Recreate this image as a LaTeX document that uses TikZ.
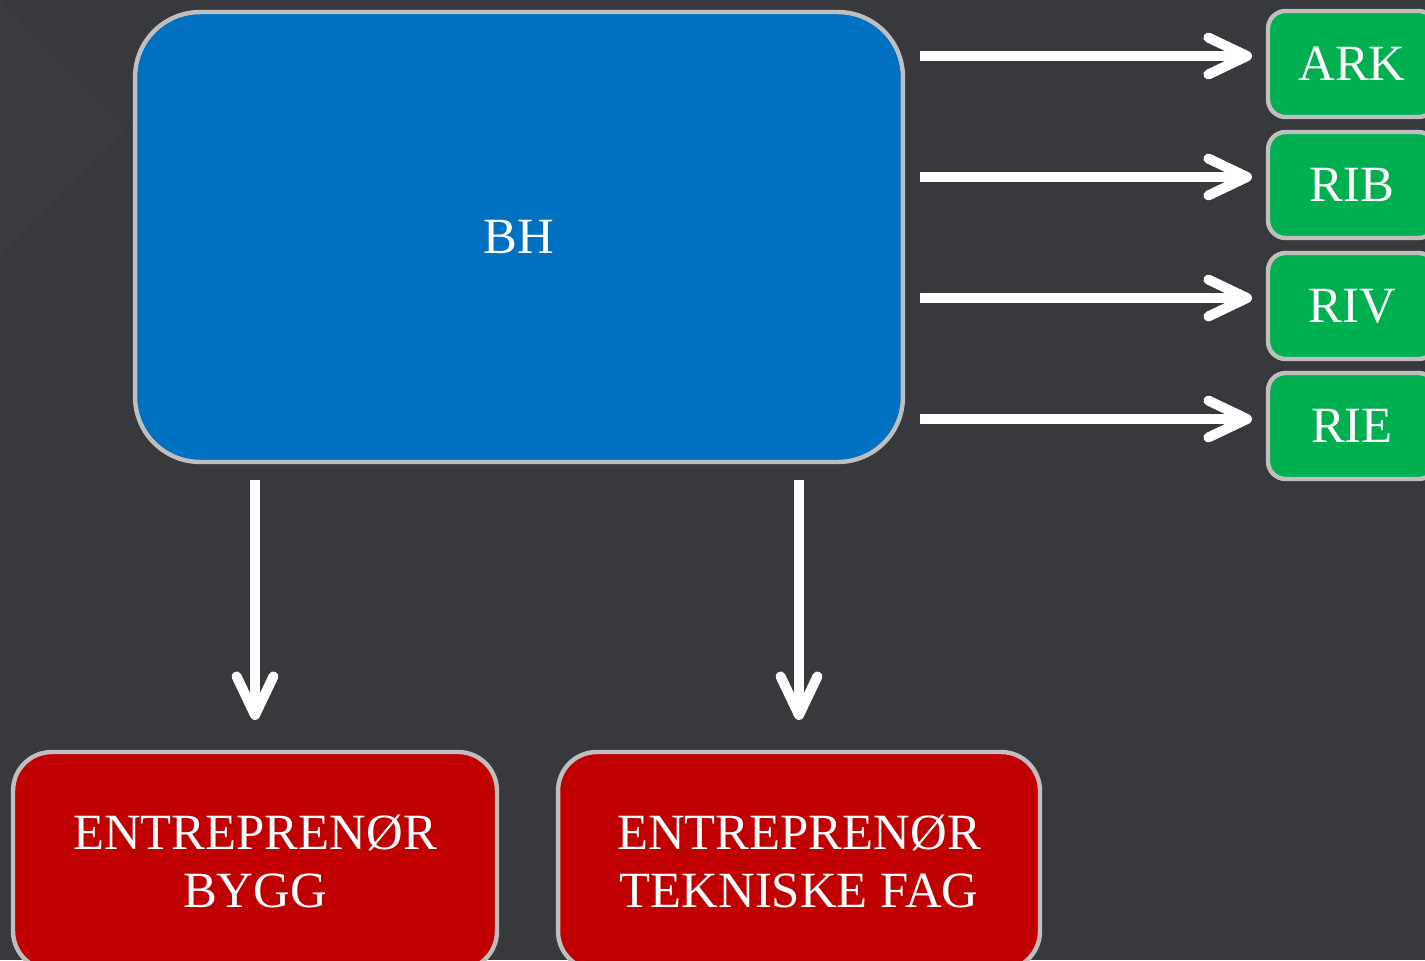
\documentclass[tikz,border=0pt]{standalone}
\usepackage{fontspec}
\setmainfont{Liberation Serif}
\usetikzlibrary{arrows.meta}
\definecolor{bgdark}{RGB}{56,57,61}
\definecolor{bgtint}{RGB}{58,59,63}
\definecolor{bhblue}{RGB}{0,112,192}
\definecolor{fagreen}{RGB}{0,176,80}
\definecolor{entred}{RGB}{192,0,0}
\definecolor{edgegray}{RGB}{191,191,191}
\begin{document}
\begin{tikzpicture}[x=0.02cm,y=-0.02cm,
  box/.style={draw=edgegray, line width=2.5pt, inner sep=0pt, text=white,
    font=\fontsize{28.9}{33}\selectfont, align=center},
  bhbox/.style={box, fill=bhblue, rounded corners=37pt,
    minimum width=15.36cm, minimum height=9cm},
  fagbox/.style={box, fill=fagreen, rounded corners=10pt,
    minimum width=3.36cm, minimum height=2.12cm},
  entbox/.style={box, fill=entred, rounded corners=22pt,
    minimum height=4.36cm},
  flow/.style={draw=white, line width=5.67pt,
    -{Straight Barb[length=22pt,width=21pt,round]}}
]
\useasboundingbox (0,0) rectangle (1425,960);
\clip (0,0) rectangle (1425,960);
% backdrop with a faint chevron in the corner
\fill[bgdark] (0,0) rectangle (1425,960);
\fill[bgtint] (0,0) -- (130,125) -- (0,257) -- cycle;

% client
\node[bhbox] (bh) at (519,237) {BH};

% consultants
\node[fagbox] (ark) at (1352,64)  {ARK};
\node[fagbox] (rib) at (1352,185) {RIB};
\node[fagbox] (riv) at (1352,306) {RIV};
\node[fagbox] (rie) at (1352,426) {RIE};

% contractors
\node[entbox, minimum width=9.68cm] (bygg) at (255,861) {ENTREPRENØR\\BYGG};
\node[entbox, minimum width=9.64cm] (tek)  at (799,861) {ENTREPRENØR\\TEKNISKE FAG};

% arrow ends
\coordinate (s1) at (920,56);  \coordinate (e1) at (1252,56);
\coordinate (s2) at (920,177); \coordinate (e2) at (1252,177);
\coordinate (s3) at (920,298); \coordinate (e3) at (1252,298);
\coordinate (s4) at (920,419); \coordinate (e4) at (1252,419);
\coordinate (s5) at (255,480); \coordinate (e5) at (255,720);
\coordinate (s6) at (799,480); \coordinate (e6) at (799,720);

\draw[flow] (s1) -- (e1);
\draw[flow] (s2) -- (e2);
\draw[flow] (s3) -- (e3);
\draw[flow] (s4) -- (e4);
\draw[flow] (s5) -- (e5);
\draw[flow] (s6) -- (e6);
\end{tikzpicture}
\end{document}
